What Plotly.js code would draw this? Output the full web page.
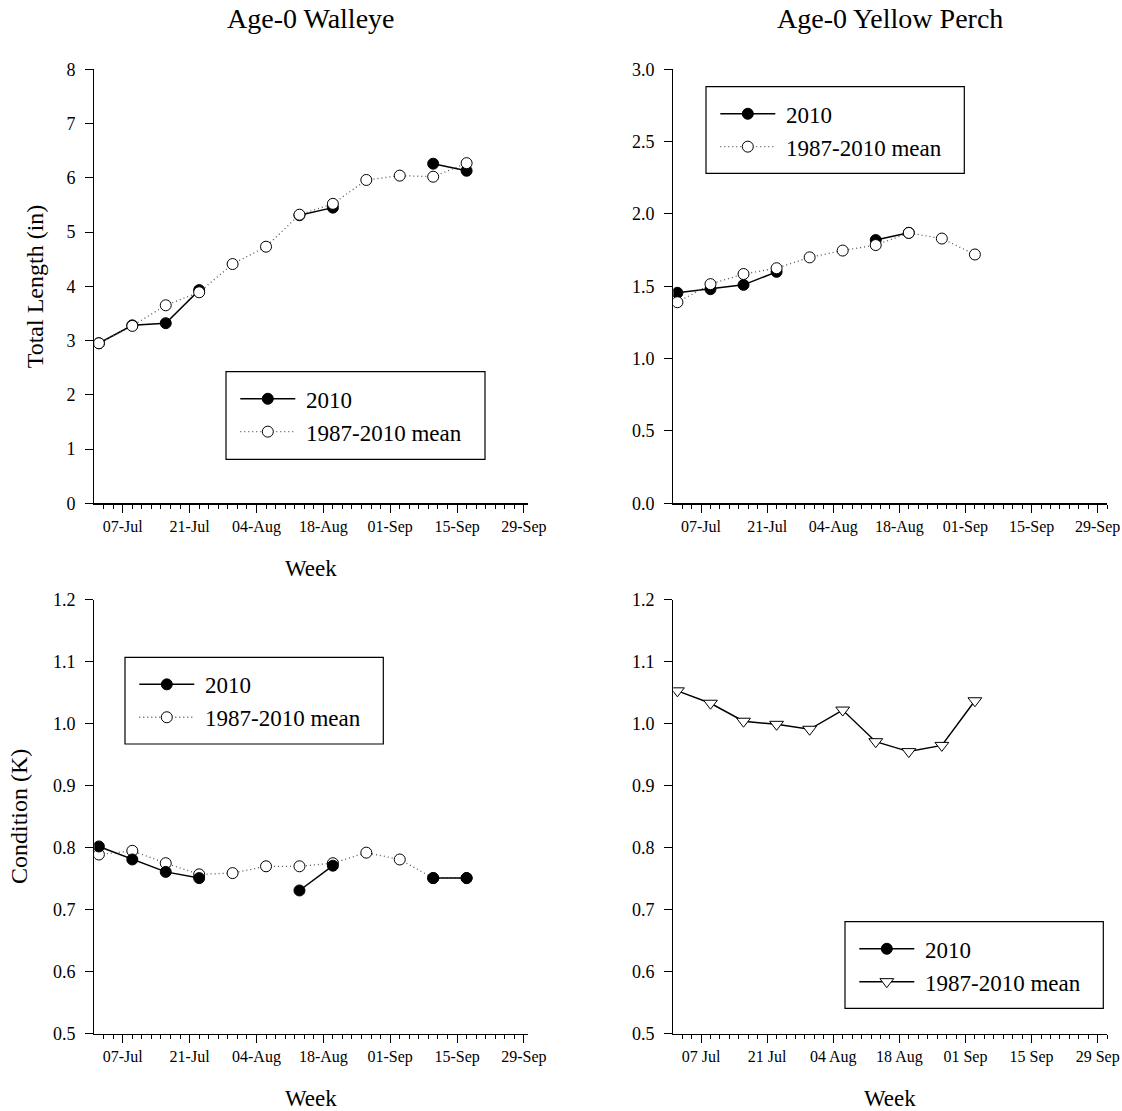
<!DOCTYPE html>
<html>
<head>
<meta charset="utf-8">
<script src="https://cdn.plot.ly/plotly-3.0.1.min.js"></script>
<style>html,body{margin:0;padding:0;background:#fff;}#chart{width:1122px;height:1111px;}</style>
</head>
<body>
<div id="chart"></div>
<script>
// ---- data ----
const weeks = ['2010-07-02','2010-07-09','2010-07-16','2010-07-23','2010-07-30','2010-08-06',
               '2010-08-13','2010-08-20','2010-08-27','2010-09-03','2010-09-10','2010-09-17'];
// Age-0 Walleye total length (in)
const walleyeLen2010 = [2.95, 3.28, 3.32, 3.93, null, null, 5.31, 5.45, null, null, 6.26, 6.13];
const walleyeLenMean = [2.95, 3.27, 3.65, 3.89, 4.41, 4.73, 5.32, 5.52, 5.96, 6.04, 6.02, 6.27];
// Age-0 Yellow Perch total length (in)
const perchLen2010 = [1.455, 1.48, 1.51, 1.60, null, null, 1.82, 1.87, null, null];
const perchLenMean = [1.39, 1.515, 1.585, 1.625, 1.70, 1.747, 1.785, 1.869, 1.83, 1.72];
// Age-0 Walleye condition (K)
const walleyeK2010 = [0.802, 0.781, 0.761, 0.751, null, null, 0.731, 0.771, null, null, 0.751, 0.751];
const walleyeKMean = [0.789, 0.795, 0.775, 0.757, 0.759, 0.770, 0.770, 0.775, 0.792, 0.781, 0.751, 0.751];
// Age-0 Yellow Perch condition (K)
const perchK2010 = [null, null, null, null, null, null, null, null, null, null];
const perchKMean = [1.053, 1.033, 1.004, 0.999, 0.991, 1.022, 0.971, 0.955, 0.965, 1.037];
const perchWeeks = weeks.slice(0, 10);

const name2010 = '2010';
const nameMean = '1987-2010 mean';
const panelTitles = ['Age-0 Walleye', 'Age-0 Yellow Perch'];
const yTitles = ['Total Length (in)', 'Condition (K)'];
const xTitle = 'Week';

// ---- styles ----
const FONT = '"Liberation Serif", "Times New Roman", Times, serif';
const W = 1122, H = 1111;
const px = v => v / W;
const py = v => 1 - v / H;
const NB = '\u00a0';

const filledMarker = {symbol: 'circle', size: 11, color: '#000', line: {color: '#000', width: 1}};
const openMarker = {symbol: 'circle', size: 11, color: '#fff', line: {color: '#000', width: 1}};
const triMarker = {symbol: 'triangle-down', size: 12, color: '#fff', line: {color: '#000', width: 1}};
const solidLine = {color: '#000', width: 1.5};
const dotLine = {color: '#555', width: 1.3, dash: '1px,3px'};

function t2010(x, y, xa, ya, lg) {
  return {x: x, y: y, xaxis: xa, yaxis: ya, name: NB + name2010, legend: lg, legendrank: 1,
          mode: 'lines+markers', line: solidLine, marker: filledMarker, connectgaps: false,
          hoverinfo: 'x+y'};
}
function tMean(x, y, xa, ya, lg, line, marker) {
  return {x: x, y: y, xaxis: xa, yaxis: ya, name: NB + nameMean, legend: lg, legendrank: 2,
          mode: 'lines+markers', line: line, marker: marker, hoverinfo: 'x+y'};
}

const traces = [
  t2010(weeks, walleyeLen2010, 'x', 'y', 'legend'),
  tMean(weeks, walleyeLenMean, 'x', 'y', 'legend', dotLine, openMarker),
  t2010(perchWeeks, perchLen2010, 'x2', 'y2', 'legend2'),
  tMean(perchWeeks, perchLenMean, 'x2', 'y2', 'legend2', dotLine, openMarker),
  tMean(weeks, walleyeKMean, 'x3', 'y3', 'legend3', dotLine, openMarker),
  t2010(weeks, walleyeK2010, 'x3', 'y3', 'legend3'),
  t2010(perchWeeks, perchK2010, 'x4', 'y4', 'legend4'),
  tMean(perchWeeks, perchKMean, 'x4', 'y4', 'legend4', solidLine, triMarker)
];

const DAY = 86400000;
function xax(domain, range, fmt, anchor) {
  return {
    type: 'date', domain: domain, range: range, anchor: anchor,
    tickmode: 'linear', tick0: '2010-07-07', dtick: 14 * DAY, tickformat: fmt,
    ticks: 'outside', ticklen: 8, tickwidth: 1, tickcolor: '#000',
    showline: true, linecolor: '#000', linewidth: 1.3, showgrid: false, zeroline: false,
    tickfont: {family: FONT, size: 16, color: '#000'}, automargin: false,
    minor: {tick0: '2010-07-01', dtick: 2 * DAY, ticks: 'outside', ticklen: 4, tickwidth: 1, tickcolor: '#000', showgrid: false}
  };
}
function yax(domain, range, dtick, fmt, anchor) {
  return {
    domain: domain, range: range, anchor: anchor, tickmode: 'linear', tick0: range[0], dtick: dtick,
    tickformat: fmt, ticks: 'outside', ticklen: 8, tickwidth: 1, tickcolor: '#000',
    showline: true, linecolor: '#000', linewidth: 1.3, showgrid: false, zeroline: false,
    tickfont: {family: FONT, size: 18, color: '#000'}, automargin: false, ticklabelstandoff: 6
  };
}

const xdL = [px(94.3), px(528.3)], xdR = [px(673.3), px(1107.3)];
const ydT = [py(503.3), py(69.3)], ydB = [py(1033.7), py(599.7)];
const rangeL = ['2010-07-01 01:00', '2010-09-29 22:00'];
const rangeR = ['2010-07-01 03:00', '2010-10-01 01:00'];

// legend boxes [left, top, right, bottom] in page pixels
const boxes = [[226, 371.7, 485, 459.3], [706, 86.7, 964.3, 173.3],
               [125, 657.3, 383.3, 744], [845, 921.7, 1103.3, 1008.3]];

function legendIn(b) {
  return {x: px(b[0] + 9.3), y: py(b[1] + 5.6), xanchor: 'left', yanchor: 'top', bgcolor: 'rgba(0,0,0,0)',
          borderwidth: 0, itemwidth: 55, traceorder: 'normal',
          font: {family: FONT, size: 23, color: '#000'}};
}
const boxShapes = boxes.map(b => ({type: 'rect', xref: 'paper', yref: 'paper', layer: 'above',
  x0: px(b[0]), x1: px(b[2]), y0: py(b[3]), y1: py(b[1]),
  line: {color: '#000', width: 1.2}, fillcolor: '#fff'}));

const ann = (text, x, y, size, angle) => ({text: text, x: px(x), y: py(y), xref: 'paper', yref: 'paper',
  xanchor: 'center', yanchor: 'middle', showarrow: false, textangle: angle || 0,
  font: {family: FONT, size: size, color: '#000'}});

const layout = {
  width: W, height: H, margin: {l: 0, r: 0, t: 0, b: 0},
  paper_bgcolor: '#fff', plot_bgcolor: 'rgba(0,0,0,0)',
  font: {family: FONT, color: '#000'},
  showlegend: true,
  xaxis: xax(xdL, rangeL, '%d-%b', 'y'),
  yaxis: yax(ydT, [0, 8], 1, 'd', 'x'),
  xaxis2: xax(xdR, rangeR, '%d-%b', 'y2'),
  yaxis2: yax(ydT, [0, 3], 0.5, '.1f', 'x2'),
  xaxis3: xax(xdL, rangeL, '%d-%b', 'y3'),
  yaxis3: yax(ydB, [0.5, 1.2], 0.1, '.1f', 'x3'),
  xaxis4: xax(xdR, rangeR, '%d %b', 'y4'),
  yaxis4: yax(ydB, [0.5, 1.2], 0.1, '.1f', 'x4'),
  legend: legendIn(boxes[0]),
  legend2: legendIn(boxes[1]),
  legend3: legendIn(boxes[2]),
  legend4: legendIn(boxes[3]),
  shapes: boxShapes,
  annotations: [
    ann(panelTitles[0], 311, 18, 28),
    ann(panelTitles[1], 890, 18, 28),
    ann(yTitles[0], 35, 286.3, 24, -90),
    ann(yTitles[1], 19, 817, 24, -90),
    ann(xTitle, 311, 568, 23),
    ann(xTitle, 311, 1098, 23),
    ann(xTitle, 890, 1098, 23)
  ]
};

Plotly.newPlot('chart', traces, layout, {staticPlot: true, displayModeBar: false});
</script>
</body>
</html>
